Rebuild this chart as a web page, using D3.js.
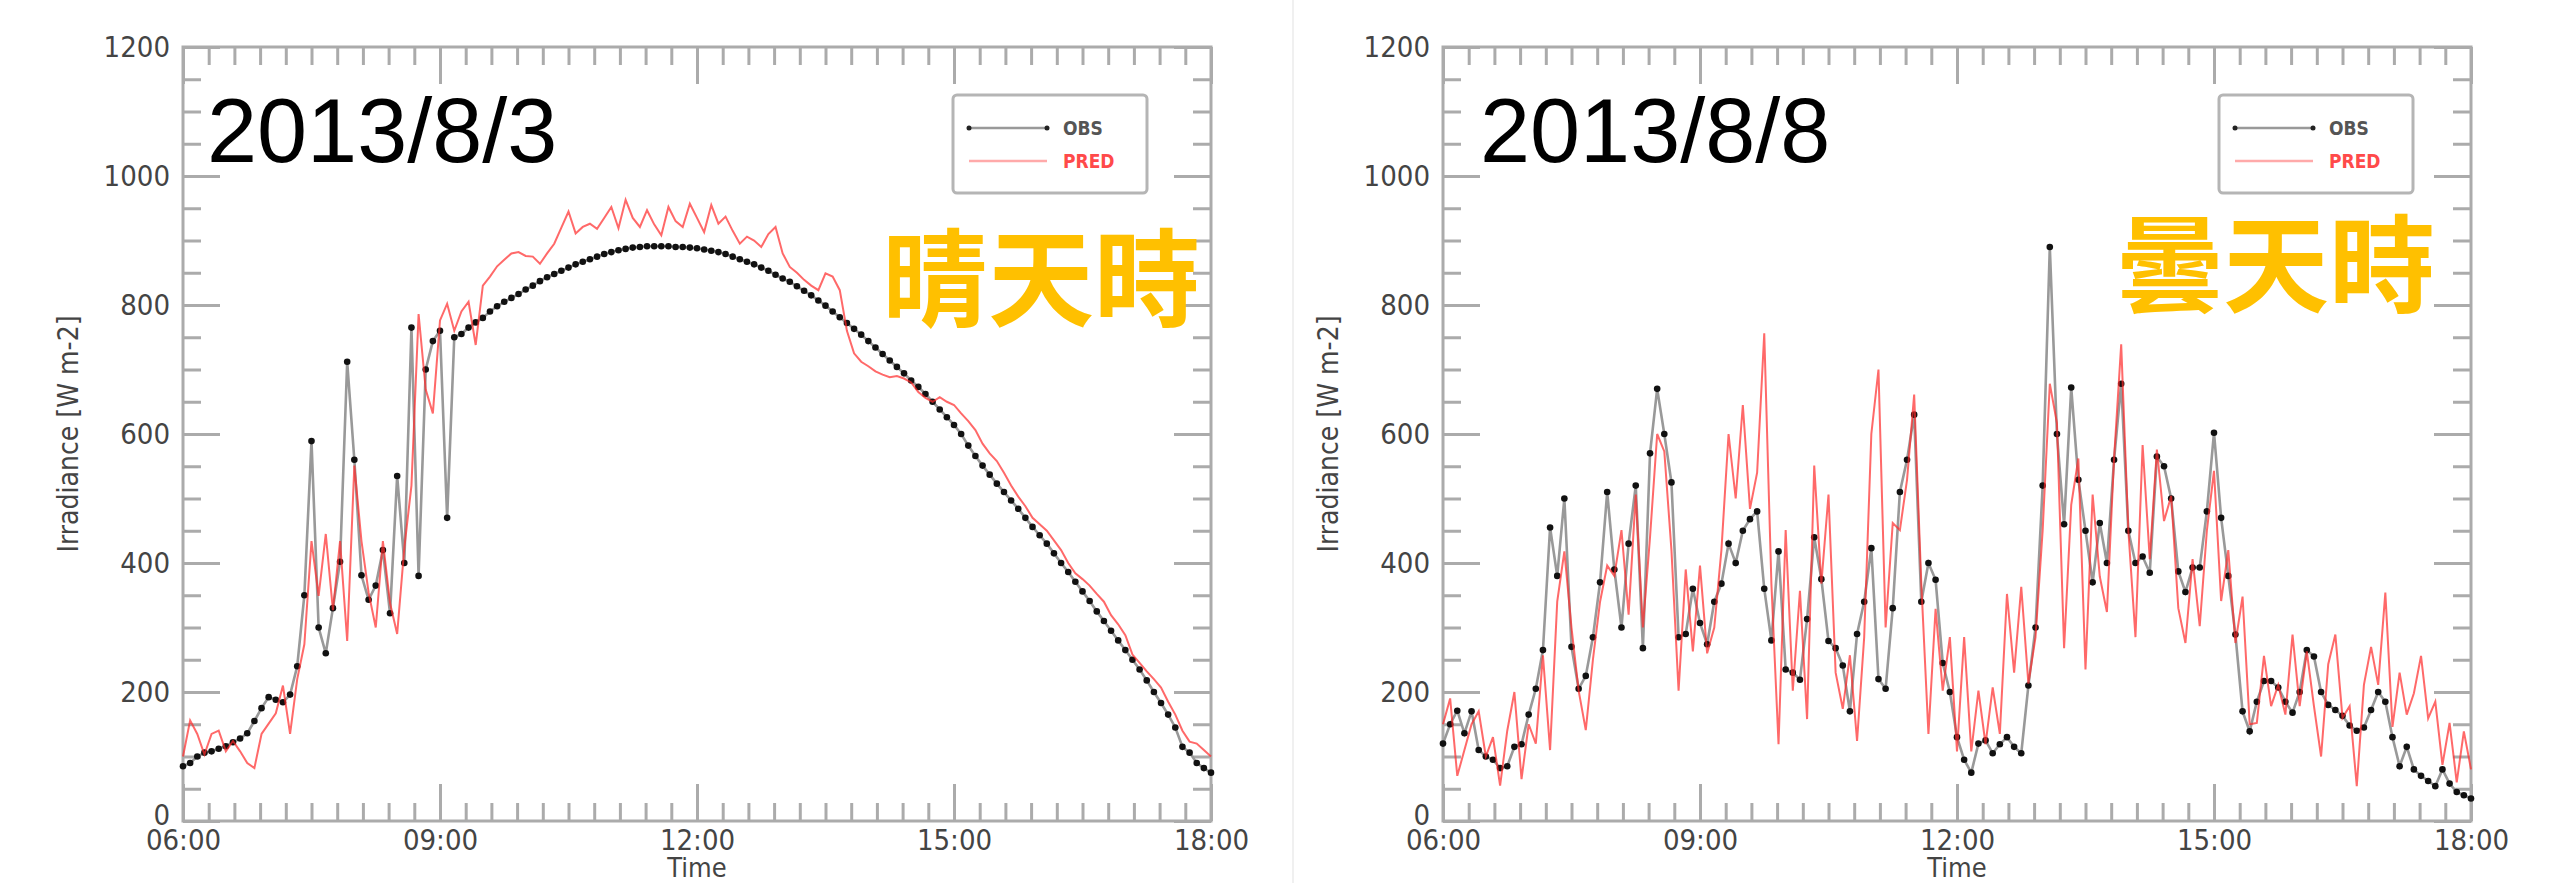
<!DOCTYPE html>
<html>
<head>
<meta charset="utf-8">
<script src="https://cdn.jsdelivr.net/npm/d3@7"></script>
<style>
  body { margin: 0; background: #fff; }
  svg { display: block; }
</style>
</head>
<body>
<div id="chart"></div>
<script>
// ---- data (irradiance, W m-2, every 5 minutes from 06:00 to 18:00) ----
var stepMin = 5;
var times = d3.range(0, 721, stepMin);   // minutes after 06:00

var xTickLabels = ["06:00", "09:00", "12:00", "15:00", "18:00"];
var yTickLabels = [0, 200, 400, 600, 800, 1000, 1200];

var dates = ["2013/8/3", "2013/8/8"];
var weather = ["晴天時", "曇天時"];
var seriesNames = ["OBS", "PRED"];

// 2013/8/3 clear day
var obs0803 = [
  85, 90, 100, 106, 108, 112, 116, 122, 128, 136, 155, 175,
  192, 188, 184, 196, 240, 350, 589, 300, 260, 330, 402, 712,
  560, 381, 343, 365, 420, 322, 535, 400, 765, 380, 700, 744,
  760, 470, 750, 755, 765, 773, 780, 790, 798, 805, 811, 817,
  824, 830, 837, 843, 848, 853, 858, 863, 867, 871, 875, 879,
  882, 885, 887, 889, 890, 891, 891, 891, 891, 890, 890, 889,
  888, 886, 884, 882, 879, 875, 871, 867, 863, 858, 853, 847,
  841, 836, 829, 822, 815, 807, 799, 790, 781, 772, 763, 754,
  744, 734, 724, 714, 704, 694, 683, 673, 662, 650, 638, 626,
  614, 600, 582, 566, 551, 537, 523, 510, 497, 484, 470, 456,
  443, 430, 415, 400, 386, 371, 356, 341, 325, 310, 295, 280,
  265, 250, 235, 218, 200, 183, 165, 145, 115, 106, 90, 82,
  75
];
var pred0803 = [
  100, 156, 135, 103, 135, 140, 108, 124, 108, 90, 82, 135,
  151, 167, 210, 135, 220, 274, 434, 349, 445, 327, 434, 279,
  551, 434, 354, 300, 434, 338, 290, 423, 520, 786, 669, 632,
  776, 802, 760, 790, 805, 738, 830, 844, 860, 870, 880, 882,
  876, 875, 864, 880, 895, 920, 945, 911, 921, 926, 918, 935,
  952, 919, 963, 935, 921, 947, 925, 908, 952, 930, 921, 957,
  935, 913, 955, 926, 937, 915, 895, 906, 900, 890, 910, 921,
  880, 859, 850, 839, 830, 823, 849, 844, 823, 760, 725, 712,
  705, 697, 692, 688, 690, 686, 680, 665, 656, 650, 657, 650,
  645, 632, 620, 606, 585, 570, 558, 540, 520, 503, 488, 470,
  460, 450, 435, 420, 400, 384, 375, 365, 352, 340, 319, 305,
  288, 258, 245, 232, 220, 207, 185, 165, 140, 123, 120, 110,
  100
];

// 2013/8/8 cloudy day
var obs0808 = [
  120, 150, 171, 136, 170, 110, 100, 95, 82, 85, 115, 119,
  165, 205, 265, 455, 380, 500, 270, 205, 225, 285, 370, 510,
  390, 300, 430, 520, 268, 570, 670, 600, 525, 285, 290, 360,
  307, 274, 340, 368, 430, 400, 450, 468, 480, 360, 280, 418,
  235, 230, 219, 313, 440, 375, 279, 268, 241, 170, 290, 340,
  423, 220, 205, 330, 510, 560, 630, 340, 400, 374, 245, 200,
  130, 95, 75, 120, 125, 105, 119, 130, 115, 105, 210, 300,
  520, 890, 600, 460, 672, 529, 450, 370, 462, 400, 560, 678,
  450, 400, 410, 385, 565, 550, 500, 387, 355, 393, 393, 480,
  602, 470, 380, 289, 170, 139, 185, 217, 217, 207, 185, 168,
  200, 265, 255, 200, 180, 172, 163, 148, 140, 145, 172, 200,
  185, 130, 85, 115, 80, 70, 62, 54, 80, 58, 45, 40,
  35
];
var pred0808 = [
  150, 190, 70, 110, 150, 170, 100, 130, 55, 140, 200, 65,
  150, 120, 257, 110, 340, 418, 300, 202, 141, 250, 340, 396,
  380, 451, 320, 506, 300, 440, 600, 573, 420, 202, 390, 263,
  396, 260, 300, 420, 600, 500, 645, 484, 540, 756, 368, 119,
  451, 202, 357, 158, 551, 368, 506, 230, 174, 257, 124, 285,
  600, 700, 300, 462, 451, 529, 661, 368, 135, 329, 202, 285,
  108, 285, 108, 202, 119, 207, 135, 352, 230, 363, 213, 285,
  451, 678, 617, 268, 490, 562, 235, 506, 379, 324, 562, 739,
  451, 285, 583, 406, 576, 465, 504, 330, 276, 406, 302, 450,
  543, 341, 420, 276, 348, 150, 152, 256, 178, 211, 165, 289,
  178, 263, 178, 100, 243, 289, 160, 178, 54, 211, 270, 211,
  354, 146, 230, 165, 198, 256, 159, 185, 87, 152, 60, 139,
  80
];

// ---- layout ----
var W = 2556, H = 883;
var plotW = 1028;
var yTop = 47, yBottom = 821;
var majorLen = 37, minorLen = 18;
var axisColor = "#ababab";
var labelColor = "#444";
var tickFont = "'DejaVu Sans Condensed', 'DejaVu Sans', sans-serif";

var panels = [
  {left: 183,  date: dates[0], weather: weather[0], obs: obs0803, pred: pred0803,
   titleX: 207, legendX: 953, weatherX: 1200, weatherY: 318},
  {left: 1443, date: dates[1], weather: weather[1], obs: obs0808, pred: pred0808,
   titleX: 1480, legendX: 2219, weatherX: 2435, weatherY: 304}
];

var svg = d3.select("#chart").append("svg")
  .attr("width", W)
  .attr("height", H)
  .style("background", "#fff");

// faint seam between the two pictures
svg.append("line")
  .attr("x1", 1293).attr("x2", 1293)
  .attr("y1", 0).attr("y2", H)
  .attr("stroke", "#f0f0f0")
  .attr("stroke-width", 2);

function fmtTime(m) {
  return xTickLabels[Math.round(m / 180)];
}

function styleAxis(g) {
  g.select(".domain").remove();
  g.selectAll(".tick line")
    .attr("stroke", axisColor)
    .attr("stroke-width", 3);
  g.selectAll("text")
    .attr("fill", labelColor)
    .style("font-family", tickFont)
    .style("font-size", "29px");
}

function drawPanel(p) {
  var x = d3.scaleLinear().domain([0, 720]).range([p.left, p.left + plotW]);
  var y = d3.scaleLinear().domain([0, 1200]).range([yBottom, yTop]);

  var majorX = d3.range(0, 721, 180);
  var minorX = d3.range(0, 721, 18).filter(function(d) { return d % 180 != 0; });
  var majorY = yTickLabels;
  var minorY = d3.range(0, 1201, 50).filter(function(d) { return d % 200 != 0; });

  var g = svg.append("g");

  // frame
  g.append("rect")
    .attr("x", x(0)).attr("y", y(1200))
    .attr("width", x(720) - x(0)).attr("height", y(0) - y(1200))
    .attr("fill", "none")
    .attr("stroke", axisColor)
    .attr("stroke-width", 3);

  // bottom axis with labels
  g.append("g")
    .attr("transform", "translate(0," + y(0) + ")")
    .call(d3.axisBottom(x).tickValues(majorX).tickSize(-majorLen).tickPadding(8).tickFormat(fmtTime))
    .call(styleAxis);
  g.append("g")
    .attr("transform", "translate(0," + y(0) + ")")
    .call(d3.axisBottom(x).tickValues(minorX).tickSize(-minorLen).tickFormat(""))
    .call(styleAxis);
  // top mirror ticks
  g.append("g")
    .attr("transform", "translate(0," + y(1200) + ")")
    .call(d3.axisTop(x).tickValues(majorX).tickSize(-majorLen).tickFormat(""))
    .call(styleAxis);
  g.append("g")
    .attr("transform", "translate(0," + y(1200) + ")")
    .call(d3.axisTop(x).tickValues(minorX).tickSize(-minorLen).tickFormat(""))
    .call(styleAxis);

  // left axis with labels
  var yAxisG = g.append("g")
    .attr("transform", "translate(" + x(0) + ",0)")
    .call(d3.axisLeft(y).tickValues(majorY).tickSize(-majorLen).tickPadding(13).tickFormat(d3.format("d")))
    .call(styleAxis);
  // the zero sits a little higher, just above the first time label
  yAxisG.selectAll(".tick text")
    .filter(function(d) { return d === 0; })
    .attr("dy", "0.12em");
  g.append("g")
    .attr("transform", "translate(" + x(0) + ",0)")
    .call(d3.axisLeft(y).tickValues(minorY).tickSize(-minorLen).tickFormat(""))
    .call(styleAxis);
  // right mirror ticks
  g.append("g")
    .attr("transform", "translate(" + x(720) + ",0)")
    .call(d3.axisRight(y).tickValues(majorY).tickSize(-majorLen).tickFormat(""))
    .call(styleAxis);
  g.append("g")
    .attr("transform", "translate(" + x(720) + ",0)")
    .call(d3.axisRight(y).tickValues(minorY).tickSize(-minorLen).tickFormat(""))
    .call(styleAxis);

  // axis titles
  g.append("text")
    .attr("x", (x(0) + x(720)) / 2)
    .attr("y", 877)
    .attr("text-anchor", "middle")
    .attr("fill", labelColor)
    .style("font-family", tickFont)
    .style("font-size", "27px")
    .text("Time");
  g.append("text")
    .attr("transform", "translate(" + (x(0) - 105) + "," + ((y(0) + y(1200)) / 2) + ") rotate(-90)")
    .attr("text-anchor", "middle")
    .attr("fill", labelColor)
    .style("font-family", tickFont)
    .style("font-size", "28px")
    .text("Irradiance [W m-2]");

  // the lines
  var line = d3.line()
    .x(function(d, i) { return x(times[i]); })
    .y(function(d) { return y(d); });

  g.append("path")
    .datum(p.obs)
    .attr("fill", "none")
    .attr("stroke", "#999")
    .attr("stroke-width", 2.6)
    .attr("d", line);
  g.selectAll(".obsdot")
    .data(p.obs)
    .enter().append("circle")
      .attr("class", "obsdot")
      .attr("cx", function(d, i) { return x(times[i]); })
      .attr("cy", function(d) { return y(d); })
      .attr("r", 3.3)
      .attr("fill", "#111");

  g.append("path")
    .datum(p.pred)
    .attr("fill", "none")
    .attr("stroke", "#ff2a2a")
    .attr("stroke-opacity", 0.7)
    .attr("stroke-width", 2)
    .attr("d", line);

  // date title
  g.append("text")
    .attr("x", p.titleX)
    .attr("y", 162)
    .attr("fill", "#000")
    .style("font-family", "'Liberation Sans', Arial, sans-serif")
    .style("font-size", "90px")
    .text(p.date);

  // weather label
  g.append("text")
    .attr("x", p.weatherX)
    .attr("y", p.weatherY)
    .attr("text-anchor", "end")
    .attr("fill", "#ffc000")
    .style("font-family", "'Noto Sans CJK TC', 'Noto Sans CJK JP', sans-serif")
    .style("font-weight", "bold")
    .style("font-size", "106px")
    .text(p.weather);

  // legend
  var lg = g.append("g").attr("transform", "translate(" + p.legendX + ",95)");
  lg.append("rect")
    .attr("width", 194).attr("height", 98)
    .attr("rx", 4)
    .attr("fill", "#fff")
    .attr("stroke", "#b5b5b5")
    .attr("stroke-width", 3);
  lg.append("line")
    .attr("x1", 16).attr("x2", 94).attr("y1", 33).attr("y2", 33)
    .attr("stroke", "#999").attr("stroke-width", 2.6);
  lg.selectAll(".lgdot")
    .data([16, 94])
    .enter().append("circle")
      .attr("cx", function(d) { return d; })
      .attr("cy", 33)
      .attr("r", 2.5)
      .attr("fill", "#222");
  lg.append("line")
    .attr("x1", 16).attr("x2", 94).attr("y1", 66).attr("y2", 66)
    .attr("stroke", "#ff2a2a").attr("stroke-opacity", 0.4).attr("stroke-width", 2.5);
  lg.append("text")
    .attr("x", 110).attr("y", 40)
    .attr("fill", "#555")
    .style("font-family", tickFont)
    .style("font-weight", "bold")
    .style("font-size", "19px")
    .text(seriesNames[0]);
  lg.append("text")
    .attr("x", 110).attr("y", 73)
    .attr("fill", "#ff4a4a")
    .style("font-family", tickFont)
    .style("font-weight", "bold")
    .style("font-size", "19px")
    .text(seriesNames[1]);
}

panels.forEach(drawPanel);
</script>
</body>
</html>
